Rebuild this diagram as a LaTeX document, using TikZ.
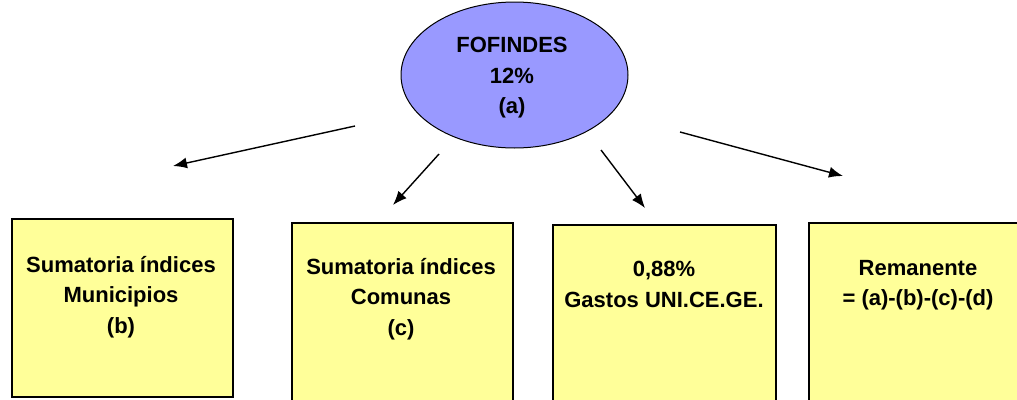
\documentclass[tikz,border=0pt]{standalone}
\usepackage{fontspec}
\setmainfont{Liberation Sans}
\usetikzlibrary{shapes.geometric,arrows.meta}
\definecolor{lila}{RGB}{153,153,255}
\definecolor{amarillo}{RGB}{255,255,153}
\tikzset{
    every node/.style={inner sep=0mm, font=\bfseries\fontsize{22}{30.5}\selectfont}
}
\tikzset{fondo/.style={ellipse, draw, line width=1pt, fill=lila}}
\tikzset{caja/.style={rectangle, draw, line width=1.6pt, fill=amarillo, minimum width=221pt}}
\tikzset{texto/.style={align=center, anchor=north}}
\tikzset{flecha/.style={line width=1.4pt, -{Latex[length=14pt,width=11pt]}}}

\begin{document}
\begin{tikzpicture}[x=1pt, y=-1pt]
        \clip (0,0) rectangle (1017,399);
        \fill[white] (0,0) rectangle (1017,399);
        \node (fofindes) [fondo, minimum width=227pt, minimum height=146pt] at (514.5,75) {};
        \node (muni) [caja, minimum height=178pt] at (122.5,308) {};
        \node (comu) [caja, minimum height=197pt] at (402.5,321.5) {};
        \node (gastos) [caja, minimum width=223pt, minimum height=195pt] at (664.5,322.5) {};
        \node (rema) [caja, minimum width=218pt, minimum height=197pt] at (918,321.5) {};
        \node (tfofindes) [texto] at (512,37) {FOFINDES\\12\%\\(a)};
        \node (tmuni) [texto] at (121,256) {Sumatoria índices\\Municipios\\(b)};
        \node (tcomu) [texto] at (401,258) {Sumatoria índices\\Comunas\\(c)};
        \node (tgastos) [texto] at (664,261) {0,88\%\\Gastos UNI.CE.GE.};
        \node (trema) [texto] at (918,260) {Remanente\\= (a)-(b)-(c)-(d)};
        \coordinate (s1) at (355,126);
        \coordinate (e1) at (173,166);
        \coordinate (s2) at (439,154);
        \coordinate (e2) at (393,205);
        \coordinate (s3) at (601,150);
        \coordinate (e3) at (645,208);
        \coordinate (s4) at (680,132);
        \coordinate (e4) at (843,176);
        \draw[flecha] (s1) -- (e1);
        \draw[flecha] (s2) -- (e2);
        \draw[flecha] (s3) -- (e3);
        \draw[flecha] (s4) -- (e4);
\end{tikzpicture}
\end{document}
